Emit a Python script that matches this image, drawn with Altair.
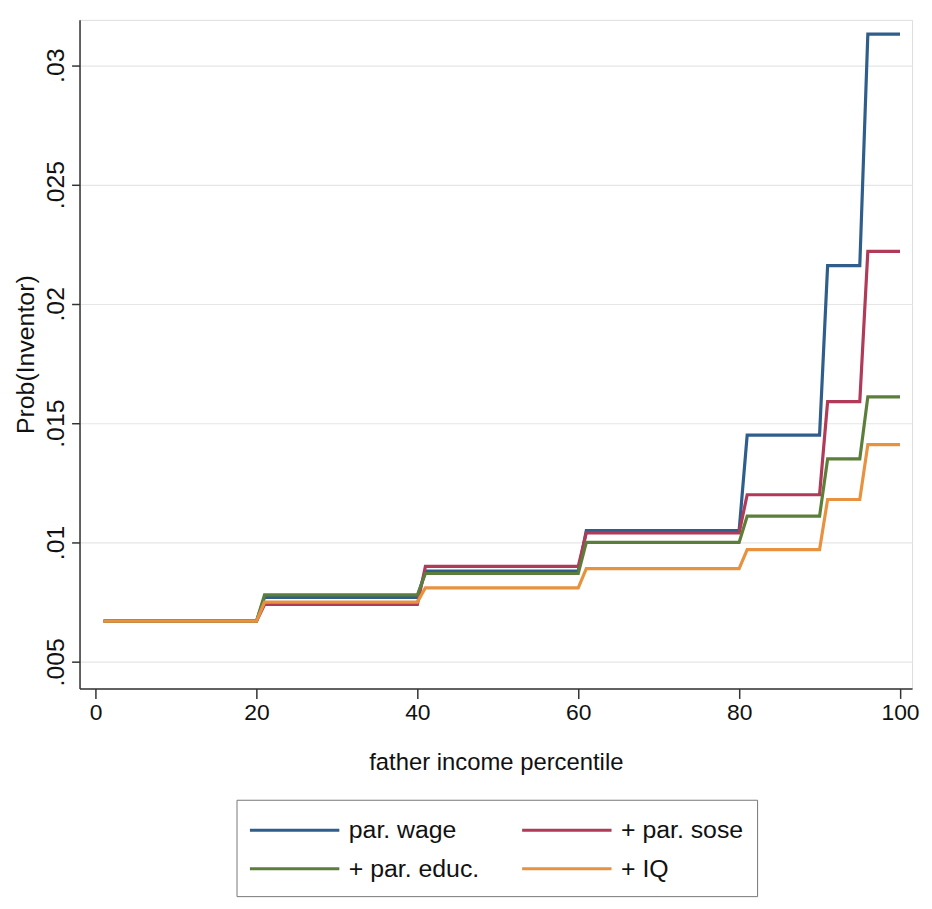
import altair as alt
import pandas as pd

series = ["par. wage", "+ par. sose", "+ par. educ.", "+ IQ"]
colors = ["#2f5d8c", "#b03a57", "#5b7f3b", "#e8923f"]

# percentile bins (father income percentile) and the estimated probability in each bin
bin_start = [1, 21, 41, 61, 81, 91, 96]
bin_end = [20, 40, 60, 80, 90, 95, 100]
par_wage = [0.0067, 0.0077, 0.0088, 0.0105, 0.0145, 0.0216, 0.0313]
par_sose = [0.0067, 0.0074, 0.0090, 0.0104, 0.0120, 0.0159, 0.0222]
par_educ = [0.0067, 0.0078, 0.0087, 0.0100, 0.0111, 0.0135, 0.0161]
plus_iq = [0.0067, 0.0075, 0.0081, 0.0089, 0.0097, 0.0118, 0.0141]

y_ticks = [0.005, 0.01, 0.015, 0.02, 0.025, 0.03]
x_ticks = [0, 20, 40, 60, 80, 100]

values = [par_wage, par_sose, par_educ, plus_iq]
rows = []
for k, (name, vals) in enumerate(zip(series, values)):
    for s, e, v in zip(bin_start, bin_end, vals):
        for p in range(s, e + 1):
            rows.append({"series": name, "k": k, "pct": p, "prob": v})
df = pd.DataFrame(rows)

font = "Liberation Sans"

chart = alt.Chart(df).mark_line(strokeWidth=3.2).encode(
    x=alt.X("pct:Q",
            scale=alt.Scale(domain=[-2, 101.5], nice=False, zero=False),
            axis=alt.Axis(values=x_ticks, title="father income percentile", grid=False,
                          labelFontSize=23, titleFontSize=24, labelFont=font, titleFont=font,
                          tickSize=10, labelPadding=3, titlePadding=27, domainWidth=1.5,
                          tickWidth=1.5, domainColor="#333", tickColor="#333",
                          labelColor="#111", titleColor="#111", titleFontWeight="normal")),
    y=alt.Y("prob:Q",
            scale=alt.Scale(domain=[0.00388, 0.0319], nice=False, zero=False),
            axis=alt.Axis(values=y_ticks, title="Prob(Inventor)", grid=True,
                          gridColor="#e6e6e6", gridWidth=1.2,
                          labelExpr="substring(format(datum.value, '.3~f'), 1)",
                          labelAngle=270, labelAlign="center", labelBaseline="bottom",
                          labelFontSize=25, titleFontSize=25, labelFont=font, titleFont=font,
                          tickSize=8, labelPadding=3, titlePadding=5, domainWidth=1.5,
                          tickWidth=1.5, domainColor="#333", tickColor="#333",
                          labelColor="#111", titleColor="#111", titleFontWeight="normal")),
    color=alt.Color("series:N",
                    scale=alt.Scale(domain=series, range=colors),
                    legend=alt.Legend(title=None, orient="none", legendX=158, legendY=785,
                                      columns=2, direction="horizontal",
                                      symbolType="M-3,0H3", symbolSize=900,
                                      symbolStrokeWidth=3, symbolOffset=28,
                                      labelFont=font, labelFontSize=25,
                                      labelColor="#111", strokeColor="#777", fillColor="white",
                                      padding=14, columnPadding=36, rowPadding=9,
                                      labelOffset=38)),
    order=alt.Order("k:Q"),
).properties(
    width=838, height=673,
    autosize=alt.AutoSizeParams(type="none"),
    padding={"left": 72, "top": 9, "right": 12, "bottom": 218},
).configure_view(strokeWidth=0).configure(background="white")

chart.save("out.html", embed_options={"renderer": "svg", "actions": False})
